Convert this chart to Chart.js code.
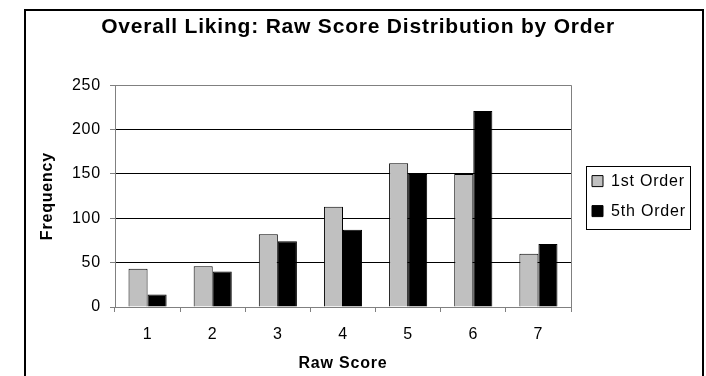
<!DOCTYPE html>
<html>
<head>
<meta charset="utf-8">
<script src="https://cdn.jsdelivr.net/npm/chart.js@4"></script>
<style>
  body { margin: 0; background: #fff; overflow: hidden; }
  canvas { display: block; }
</style>
</head>
<body>
<canvas id="chart" width="706" height="376"></canvas>
<script>
// data
const scores = ['1', '2', '3', '4', '5', '6', '7'];
const firstOrder = [43, 46, 82, 113, 162, 150, 60];
const fifthOrder = [14, 40, 74, 87, 150, 221, 71];
const yTicks = [0, 50, 100, 150, 200, 250];

const FONT = "'Liberation Sans', Arial, sans-serif";
Chart.defaults.font.family = FONT;
Chart.defaults.color = '#000';

// old excel text is a bit wider than plain arial
const spacing = {
    id: 'spacing',
    beforeUpdate(chart) { chart.ctx.letterSpacing = '0.8px'; },
    beforeDraw(chart) { chart.ctx.letterSpacing = '0.8px'; }
};

// outer frame, plot border, legend box
const frames = {
    id: 'frames',
    afterDraw(chart) {
        const ctx = chart.ctx;
        const a = chart.chartArea;
        ctx.save();
        ctx.strokeStyle = '#808080';
        ctx.lineWidth = 1;
        ctx.beginPath();
        ctx.moveTo(Math.round(a.right) + 0.5, a.top);
        ctx.lineTo(Math.round(a.right) + 0.5, a.bottom);
        ctx.stroke();

        const hb = chart.legend.legendHitBoxes;
        if (hb && hb.length) {
            const l = Math.min(...hb.map(h => h.left)) - 6;
            const r = Math.max(...hb.map(h => h.left + h.width)) + 4;
            const t = hb[0].top - 7;
            const b = hb[hb.length - 1].top + hb[hb.length - 1].height + 10;
            ctx.strokeStyle = '#000';
            ctx.strokeRect(Math.round(l) + 0.5, Math.round(t) + 0.5, Math.round(r - l), Math.round(b - t));
        }

        ctx.strokeStyle = '#000';
        ctx.lineWidth = 2;
        ctx.strokeRect(25, 10, 678, 380);
        ctx.restore();
    }
};

new Chart(document.getElementById('chart'), {
    type: 'bar',
    data: {
        labels: scores,
        datasets: [{
            label: '1st Order',
            data: firstOrder,
            backgroundColor: '#c0c0c0',
            borderColor: '#000',
            borderWidth: 1,
            borderSkipped: 'bottom'
        }, {
            label: '5th Order',
            data: fifthOrder,
            backgroundColor: '#000',
            borderColor: '#000',
            borderWidth: 1,
            borderSkipped: 'bottom'
        }]
    },
    options: {
        responsive: false,
        animation: false,
        devicePixelRatio: 1,
        categoryPercentage: 0.585,
        barPercentage: 1,
        layout: { padding: { left: 28, right: 18, top: 0, bottom: 0 } },
        scales: {
            x: {
                grid: {
                    offset: true,
                    drawOnChartArea: false,
                    tickLength: 5,
                    color: '#808080'
                },
                border: { color: '#808080' },
                ticks: { font: { size: 16 }, padding: 13, maxRotation: 0 },
                title: {
                    display: true,
                    text: 'Raw Score',
                    font: { size: 16, weight: 'bold' },
                    padding: { top: 0, bottom: 3 }
                },
                afterFit(s) { s.height = 69; }
            },
            y: {
                min: 0,
                max: 250,
                afterBuildTicks(s) { s.ticks = yTicks.map(v => ({ value: v })); },
                grid: {
                    color: c => (c.tick && (c.tick.value === 250 || c.tick.value === 0)) ? '#808080' : '#000',
                    tickColor: '#808080',
                    tickLength: 5
                },
                border: { color: '#808080' },
                ticks: { font: { size: 16 }, padding: 9 },
                title: {
                    display: true,
                    text: 'Frequency',
                    font: { size: 16, weight: 'bold' },
                    padding: { top: 10, bottom: 0 }
                },
                afterFit(s) { s.width = 87; }
            },
            // empty axis, only keeps a gap between plot and legend
            gap: {
                position: 'right',
                grid: { display: false },
                ticks: { display: false },
                border: { display: false },
                afterFit(s) { s.width = 7; }
            }
        },
        plugins: {
            title: {
                display: true,
                text: 'Overall Liking: Raw Score Distribution by Order',
                font: { size: 21, weight: 'bold' },
                color: '#000',
                padding: { top: 15, bottom: 45 }
            },
            legend: {
                position: 'right',
                fullSize: false,
                labels: {
                    font: { size: 16 },
                    boxWidth: 11,
                    boxHeight: 11,
                    padding: 14,
                    color: '#000'
                }
            },
            tooltip: { enabled: false }
        }
    },
    plugins: [spacing, frames]
});
</script>
</body>
</html>
